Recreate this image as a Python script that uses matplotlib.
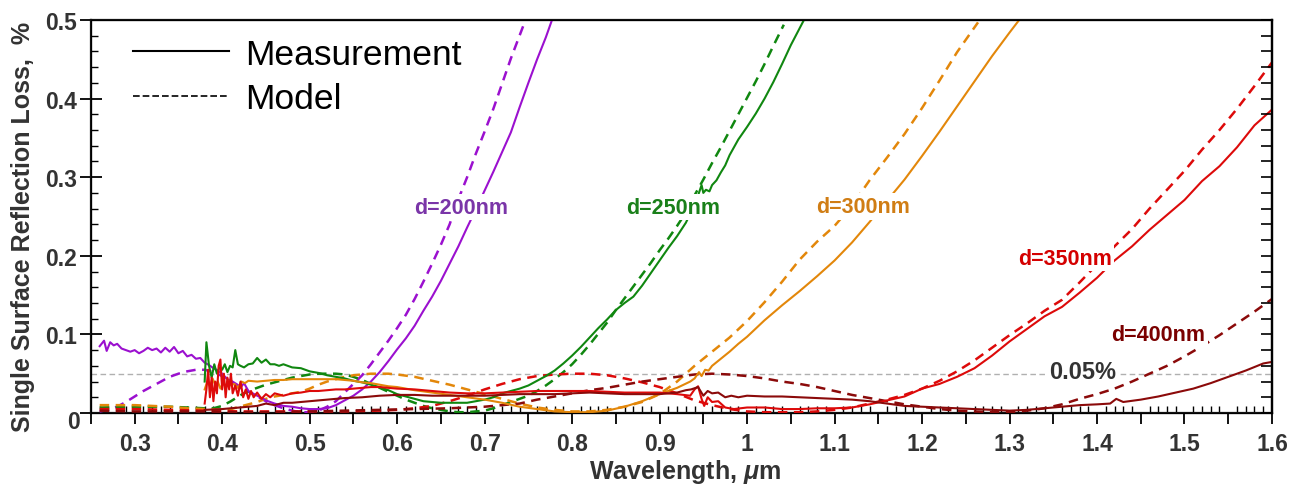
import matplotlib
matplotlib.use("Agg")
import matplotlib.pyplot as plt
from matplotlib.lines import Line2D
from matplotlib.ticker import MultipleLocator, FuncFormatter

plt.rcParams["font.family"] = ["Liberation Sans", "DejaVu Sans"]
plt.rcParams["mathtext.fontset"] = "custom"
plt.rcParams["mathtext.it"] = "Liberation Sans:italic:bold"
plt.rcParams["mathtext.rm"] = "Liberation Sans:bold"

# ---- data (wavelength in um, loss in %) ----
# d = 200 nm
x200_meas = [0.260, 0.265, 0.268, 0.272, 0.276, 0.280, 0.285, 0.290, 0.295, 0.300, 0.305, 0.310,
             0.315, 0.320, 0.325, 0.330, 0.335, 0.340, 0.345, 0.350, 0.355, 0.360, 0.365, 0.370,
             0.375, 0.380, 0.385, 0.390, 0.395, 0.400, 0.405, 0.410, 0.415, 0.420, 0.425, 0.430,
             0.440, 0.450, 0.460, 0.470, 0.480, 0.490, 0.500, 0.510, 0.520, 0.530, 0.540, 0.550,
             0.560, 0.570, 0.580, 0.590, 0.600, 0.610, 0.620, 0.630, 0.640, 0.650, 0.660, 0.670,
             0.680, 0.690, 0.700, 0.710, 0.720, 0.730, 0.740, 0.750, 0.760, 0.770, 0.777]
y200_meas = [0.085, 0.092, 0.079, 0.090, 0.086, 0.088, 0.082, 0.080, 0.078, 0.080, 0.076, 0.079,
             0.083, 0.080, 0.082, 0.077, 0.083, 0.078, 0.084, 0.076, 0.079, 0.072, 0.074, 0.069,
             0.070, 0.064, 0.061, 0.057, 0.054, 0.050, 0.044, 0.040, 0.036, 0.031, 0.038, 0.028,
             0.022, 0.016, 0.012, 0.009, 0.008, 0.006, 0.005, 0.005, 0.006, 0.010, 0.016, 0.022,
             0.030, 0.040, 0.052, 0.066, 0.081, 0.095, 0.111, 0.130, 0.148, 0.168, 0.190, 0.212,
             0.236, 0.259, 0.283, 0.307, 0.332, 0.357, 0.389, 0.420, 0.450, 0.478, 0.500]
x200_model = [0.260, 0.270, 0.280, 0.290, 0.300, 0.310, 0.320, 0.330, 0.340, 0.350, 0.360, 0.370,
              0.380, 0.390, 0.400, 0.410, 0.420, 0.430, 0.440, 0.450, 0.460, 0.470, 0.480, 0.490,
              0.500, 0.510, 0.520, 0.530, 0.540, 0.550, 0.560, 0.570, 0.580, 0.590, 0.600, 0.610,
              0.620, 0.630, 0.640, 0.650, 0.660, 0.670, 0.680, 0.690, 0.700, 0.710, 0.720, 0.730, 0.744]
y200_model = [0.002, 0.004, 0.008, 0.014, 0.021, 0.028, 0.034, 0.040, 0.046, 0.050, 0.053, 0.055,
              0.055, 0.052, 0.047, 0.041, 0.034, 0.027, 0.021, 0.015, 0.010, 0.006, 0.003, 0.001,
              0.001, 0.003, 0.008, 0.015, 0.026, 0.037, 0.048, 0.062, 0.077, 0.092, 0.108, 0.125,
              0.145, 0.167, 0.190, 0.214, 0.240, 0.272, 0.300, 0.330, 0.358, 0.387, 0.419, 0.451, 0.492]

# d = 250 nm
x250_meas = [0.380, 0.382, 0.385, 0.388, 0.391, 0.394, 0.397, 0.400, 0.403, 0.406, 0.409, 0.412,
             0.415, 0.418, 0.421, 0.425, 0.430, 0.435, 0.440, 0.445, 0.450, 0.455, 0.460, 0.465,
             0.470, 0.480, 0.490, 0.500, 0.510, 0.520, 0.530, 0.540, 0.550, 0.560, 0.570, 0.580,
             0.590, 0.600, 0.610, 0.620, 0.630, 0.640, 0.650, 0.660, 0.670, 0.680, 0.690, 0.700,
             0.710, 0.720, 0.730, 0.740, 0.750, 0.760, 0.770, 0.780, 0.790, 0.800, 0.810, 0.820,
             0.830, 0.840, 0.850, 0.860, 0.870, 0.880, 0.890, 0.900, 0.910, 0.920, 0.930, 0.940,
             0.945, 0.948, 0.950, 0.953, 0.957, 0.960, 0.965, 0.970, 0.975, 0.980, 0.990, 1.000,
             1.010, 1.020, 1.030, 1.040, 1.050, 1.065]
y250_meas = [0.040, 0.090, 0.060, 0.045, 0.062, 0.050, 0.058, 0.055, 0.062, 0.052, 0.060, 0.058,
             0.080, 0.062, 0.060, 0.058, 0.062, 0.063, 0.070, 0.064, 0.068, 0.062, 0.062, 0.060,
             0.062, 0.058, 0.057, 0.053, 0.051, 0.048, 0.046, 0.044, 0.041, 0.039, 0.036, 0.033,
             0.029, 0.024, 0.021, 0.018, 0.015, 0.014, 0.013, 0.013, 0.013, 0.013, 0.015, 0.017,
             0.020, 0.025, 0.028, 0.031, 0.035, 0.041, 0.047, 0.054, 0.063, 0.073, 0.084, 0.096,
             0.108, 0.119, 0.131, 0.140, 0.148, 0.162, 0.178, 0.194, 0.210, 0.225, 0.242, 0.265,
             0.280, 0.290, 0.280, 0.284, 0.282, 0.290, 0.296, 0.306, 0.315, 0.328, 0.348, 0.364,
             0.381, 0.400, 0.421, 0.444, 0.468, 0.500]
x250_model = [0.260, 0.300, 0.340, 0.380, 0.390, 0.400, 0.410, 0.420, 0.430, 0.440, 0.450, 0.460,
              0.470, 0.480, 0.490, 0.500, 0.510, 0.520, 0.530, 0.540, 0.550, 0.560, 0.570, 0.580,
              0.590, 0.600, 0.610, 0.620, 0.630, 0.640, 0.650, 0.660, 0.670, 0.680, 0.690, 0.700,
              0.710, 0.720, 0.730, 0.740, 0.750, 0.760, 0.770, 0.780, 0.790, 0.800, 0.810, 0.820,
              0.830, 0.840, 0.850, 0.860, 0.870, 0.880, 0.890, 0.900, 0.910, 0.920, 0.930, 0.940,
              0.950, 0.960, 0.970, 0.980, 0.990, 1.000, 1.010, 1.020, 1.030, 1.042]
y250_model = [0.007, 0.008, 0.008, 0.006, 0.006, 0.009, 0.015, 0.022, 0.028, 0.032, 0.036, 0.039,
              0.042, 0.045, 0.047, 0.049, 0.050, 0.050, 0.050, 0.049, 0.046, 0.042, 0.037, 0.032,
              0.027, 0.022, 0.017, 0.013, 0.009, 0.006, 0.004, 0.002, 0.001, 0.001, 0.002, 0.003,
              0.006, 0.010, 0.014, 0.018, 0.022, 0.028, 0.035, 0.043, 0.052, 0.062, 0.074, 0.087,
              0.101, 0.115, 0.131, 0.146, 0.161, 0.176, 0.191, 0.207, 0.222, 0.238, 0.255, 0.277,
              0.297, 0.318, 0.338, 0.359, 0.380, 0.401, 0.422, 0.444, 0.467, 0.494]

# d = 300 nm
x300_meas = [0.380, 0.383, 0.386, 0.389, 0.392, 0.395, 0.398, 0.401, 0.404, 0.407, 0.410, 0.414,
             0.418, 0.422, 0.426, 0.430, 0.440, 0.450, 0.460, 0.470, 0.480, 0.490, 0.500, 0.510,
             0.520, 0.530, 0.540, 0.550, 0.560, 0.570, 0.580, 0.590, 0.600, 0.620, 0.640, 0.660,
             0.680, 0.700, 0.720, 0.740, 0.760, 0.780, 0.800, 0.820, 0.840, 0.860, 0.880, 0.900,
             0.920, 0.935, 0.940, 0.945, 0.948, 0.952, 0.956, 0.960, 0.970, 0.980, 0.990, 1.000,
             1.020, 1.040, 1.060, 1.080, 1.100, 1.120, 1.140, 1.160, 1.180, 1.200, 1.220, 1.240,
             1.260, 1.280, 1.300, 1.311]
y300_meas = [0.030, 0.040, 0.034, 0.044, 0.036, 0.040, 0.031, 0.038, 0.034, 0.041, 0.035, 0.037,
             0.032, 0.040, 0.038, 0.041, 0.040, 0.041, 0.042, 0.042, 0.043, 0.043, 0.043, 0.043,
             0.043, 0.043, 0.042, 0.041, 0.039, 0.038, 0.036, 0.034, 0.033, 0.029, 0.026, 0.023,
             0.020, 0.017, 0.013, 0.008, 0.005, 0.002, 0.001, 0.001, 0.003, 0.008, 0.015, 0.024,
             0.032, 0.040, 0.044, 0.052, 0.047, 0.055, 0.054, 0.060, 0.069, 0.078, 0.088, 0.097,
             0.118, 0.137, 0.155, 0.174, 0.194, 0.217, 0.243, 0.270, 0.297, 0.327, 0.358, 0.390,
             0.422, 0.454, 0.484, 0.500]
x300_model = [0.260, 0.280, 0.300, 0.320, 0.340, 0.360, 0.380, 0.400, 0.410, 0.420, 0.430, 0.440,
              0.450, 0.460, 0.470, 0.480, 0.490, 0.500, 0.510, 0.520, 0.530, 0.540, 0.550, 0.560,
              0.570, 0.580, 0.590, 0.600, 0.620, 0.640, 0.660, 0.680, 0.700, 0.720, 0.740, 0.760,
              0.780, 0.800, 0.820, 0.840, 0.860, 0.880, 0.900, 0.920, 0.940, 0.960, 0.980, 1.000,
              1.020, 1.040, 1.060, 1.080, 1.100, 1.120, 1.140, 1.160, 1.180, 1.200, 1.220, 1.240, 1.264]
y300_model = [0.010, 0.010, 0.010, 0.009, 0.008, 0.006, 0.005, 0.004, 0.005, 0.008, 0.011, 0.014,
              0.018, 0.021, 0.023, 0.025, 0.027, 0.031, 0.036, 0.040, 0.043, 0.046, 0.048, 0.049,
              0.050, 0.050, 0.050, 0.049, 0.046, 0.041, 0.036, 0.030, 0.024, 0.018, 0.012, 0.007,
              0.004, 0.002, 0.002, 0.004, 0.008, 0.014, 0.024, 0.040, 0.060, 0.078, 0.096, 0.117,
              0.141, 0.167, 0.195, 0.218, 0.238, 0.264, 0.296, 0.325, 0.355, 0.388, 0.423, 0.459, 0.497]

# d = 350 nm
x350_meas = [0.380, 0.382, 0.384, 0.386, 0.388, 0.390, 0.392, 0.394, 0.396, 0.398, 0.400, 0.402,
             0.404, 0.406, 0.408, 0.410, 0.412, 0.415, 0.418, 0.421, 0.424, 0.427, 0.430, 0.433,
             0.436, 0.440, 0.445, 0.450, 0.455, 0.460, 0.470, 0.480, 0.490, 0.500, 0.510, 0.520,
             0.530, 0.540, 0.550, 0.560, 0.570, 0.580, 0.590, 0.600, 0.620, 0.640, 0.660, 0.680,
             0.700, 0.720, 0.740, 0.760, 0.780, 0.800, 0.820, 0.840, 0.860, 0.880, 0.900, 0.920,
             0.935, 0.940, 0.944, 0.948, 0.951, 0.955, 0.960, 0.967, 0.975, 0.985, 1.000, 1.020,
             1.040, 1.060, 1.080, 1.100, 1.120, 1.140, 1.160, 1.180, 1.200, 1.220, 1.240, 1.260,
             1.280, 1.300, 1.320, 1.340, 1.360, 1.380, 1.400, 1.420, 1.440, 1.460, 1.480, 1.500,
             1.520, 1.540, 1.560, 1.580, 1.590, 1.600]
y350_meas = [0.012, 0.030, 0.055, 0.020, 0.045, 0.015, 0.040, 0.025, 0.060, 0.068, 0.030, 0.050,
             0.020, 0.045, 0.030, 0.050, 0.025, 0.035, 0.022, 0.040, 0.020, 0.030, 0.018, 0.028,
             0.020, 0.026, 0.018, 0.024, 0.020, 0.025, 0.022, 0.025, 0.026, 0.028, 0.028, 0.029,
             0.030, 0.030, 0.031, 0.032, 0.033, 0.033, 0.032, 0.031, 0.030, 0.028, 0.026, 0.025,
             0.025, 0.026, 0.027, 0.028, 0.028, 0.028, 0.028, 0.027, 0.026, 0.026, 0.026, 0.024,
             0.022, 0.030, 0.034, 0.018, 0.009, 0.020, 0.014, 0.015, 0.007, 0.005, 0.007, 0.007,
             0.005, 0.005, 0.006, 0.006, 0.007, 0.011, 0.016, 0.021, 0.031, 0.037, 0.046, 0.057,
             0.073, 0.091, 0.107, 0.123, 0.135, 0.153, 0.172, 0.194, 0.212, 0.233, 0.252, 0.271,
             0.295, 0.314, 0.338, 0.366, 0.376, 0.386]
x350_model = [0.260, 0.300, 0.340, 0.380, 0.420, 0.460, 0.500, 0.540, 0.580, 0.600, 0.620, 0.640,
              0.660, 0.680, 0.700, 0.720, 0.740, 0.760, 0.780, 0.800, 0.820, 0.840, 0.860, 0.880,
              0.900, 0.920, 0.940, 0.960, 0.980, 1.000, 1.020, 1.040, 1.060, 1.080, 1.100, 1.120,
              1.140, 1.160, 1.180, 1.200, 1.220, 1.240, 1.260, 1.280, 1.300, 1.320, 1.340, 1.360,
              1.380, 1.400, 1.420, 1.440, 1.460, 1.480, 1.500, 1.520, 1.540, 1.560, 1.580, 1.600]
y350_model = [0.005, 0.005, 0.004, 0.003, 0.002, 0.002, 0.002, 0.002, 0.003, 0.004, 0.006, 0.009,
              0.015, 0.022, 0.030, 0.037, 0.043, 0.047, 0.049, 0.050, 0.050, 0.048, 0.044, 0.039,
              0.033, 0.025, 0.016, 0.010, 0.005, 0.002, 0.001, 0.001, 0.001, 0.002, 0.004, 0.007,
              0.012, 0.017, 0.023, 0.031, 0.041, 0.053, 0.067, 0.083, 0.099, 0.114, 0.130, 0.144,
              0.166, 0.189, 0.212, 0.234, 0.260, 0.284, 0.308, 0.335, 0.360, 0.387, 0.416, 0.446]

# d = 400 nm
x400_meas = [0.380, 0.400, 0.420, 0.440, 0.450, 0.460, 0.470, 0.480, 0.490, 0.500, 0.510, 0.520,
             0.530, 0.540, 0.560, 0.580, 0.600, 0.620, 0.640, 0.660, 0.680, 0.700, 0.720, 0.740,
             0.760, 0.780, 0.800, 0.820, 0.840, 0.860, 0.880, 0.900, 0.920, 0.930, 0.936, 0.944,
             0.950, 0.955, 0.960, 0.967, 0.975, 0.982, 0.990, 1.000, 1.020, 1.040, 1.060, 1.080,
             1.100, 1.120, 1.140, 1.160, 1.180, 1.200, 1.220, 1.240, 1.260, 1.280, 1.300, 1.320,
             1.340, 1.360, 1.380, 1.400, 1.415, 1.422, 1.430, 1.450, 1.470, 1.490, 1.510, 1.530,
             1.550, 1.570, 1.590, 1.600]
y400_meas = [0.004, 0.005, 0.007, 0.009, 0.012, 0.010, 0.013, 0.013, 0.014, 0.015, 0.016, 0.017,
             0.018, 0.019, 0.020, 0.022, 0.023, 0.023, 0.022, 0.022, 0.022, 0.022, 0.023, 0.024,
             0.024, 0.024, 0.025, 0.026, 0.025, 0.024, 0.024, 0.024, 0.026, 0.029, 0.030, 0.033,
             0.022, 0.028, 0.025, 0.026, 0.020, 0.022, 0.020, 0.022, 0.021, 0.021, 0.020, 0.019,
             0.018, 0.017, 0.015, 0.012, 0.009, 0.008, 0.007, 0.006, 0.005, 0.004, 0.003, 0.004,
             0.006, 0.008, 0.010, 0.011, 0.012, 0.018, 0.014, 0.017, 0.021, 0.026, 0.031, 0.038,
             0.046, 0.054, 0.063, 0.065]
x400_model = [0.260, 0.300, 0.340, 0.380, 0.420, 0.460, 0.500, 0.540, 0.580, 0.620, 0.660, 0.700,
              0.740, 0.760, 0.780, 0.800, 0.820, 0.840, 0.860, 0.880, 0.900, 0.920, 0.940, 0.960,
              0.980, 1.000, 1.020, 1.040, 1.060, 1.080, 1.100, 1.120, 1.140, 1.160, 1.180, 1.200,
              1.220, 1.240, 1.260, 1.280, 1.300, 1.320, 1.340, 1.360, 1.380, 1.400, 1.420, 1.440,
              1.460, 1.480, 1.500, 1.520, 1.540, 1.560, 1.580, 1.600]
y400_model = [0.003, 0.002, 0.002, 0.002, 0.001, 0.001, 0.002, 0.003, 0.004, 0.005, 0.006, 0.008,
              0.012, 0.017, 0.021, 0.025, 0.029, 0.032, 0.036, 0.040, 0.043, 0.046, 0.049, 0.050,
              0.049, 0.047, 0.044, 0.040, 0.037, 0.033, 0.028, 0.023, 0.019, 0.015, 0.011, 0.008,
              0.005, 0.003, 0.002, 0.001, 0.001, 0.003, 0.006, 0.011, 0.018, 0.024, 0.031, 0.040,
              0.050, 0.060, 0.072, 0.085, 0.099, 0.114, 0.129, 0.145]

series = [
    ("d=200nm", x200_meas, y200_meas, x200_model, y200_model, "#9b10cf", "#7a35a8", (0.673, 0.262)),
    ("d=250nm", x250_meas, y250_meas, x250_model, y250_model, "#108710", "#1a801a", (0.9155, 0.262)),
    ("d=300nm", x300_meas, y300_meas, x300_model, y300_model, "#e3870a", "#d07d14", (1.133, 0.263)),
    ("d=350nm", x350_meas, y350_meas, x350_model, y350_model, "#dd0a0a", "#d40000", (1.363, 0.197)),
    ("d=400nm", x400_meas, y400_meas, x400_model, y400_model, "#8b0a0a", "#7a0000", (1.470, 0.100)),
]

fig = plt.figure(figsize=(12.99, 4.85), dpi=100)
ax = fig.add_axes([0.0700, 0.1464, 0.9092, 0.8103])

ax.axhline(0.05, color="#b0b0b0", lw=1.0, dashes=(4, 2.5), zorder=1)
ax.text(1.384, 0.053, "0.05%", color="#333333", fontsize=17, fontweight="bold",
        ha="center", va="center", zorder=6,
        bbox=dict(fc="white", ec="none", pad=1))

for name, xm, ym, xd, yd, col, lcol, pos in series:
    ax.plot(xd, yd, color=col, lw=1.8, dashes=(3.8, 2.6), zorder=3)
    ax.plot(xm, ym, color=col, lw=1.5, zorder=4)
    ax.text(pos[0], pos[1], name, color=lcol, fontsize=15.5, fontweight="bold",
            ha="center", va="center", zorder=6,
            bbox=dict(fc="white", ec="none", pad=2))

ax.set_xlim(0.25, 1.6)
ax.set_ylim(0, 0.5)

ax.xaxis.set_major_locator(MultipleLocator(0.05))
ax.xaxis.set_minor_locator(MultipleLocator(0.01))


def xfmt(v, pos):
    k = round(v * 100)
    if k % 10 != 0 or k == 20:
        return ""
    return f"{v:.1f}".rstrip("0").rstrip(".") if k != 100 else "1"


def yfmt(v, pos):
    if abs(v) < 1e-9:
        return ""
    return f"{v:.1f}"


ax.xaxis.set_major_formatter(FuncFormatter(xfmt))
ax.yaxis.set_major_locator(MultipleLocator(0.1))
ax.yaxis.set_minor_locator(MultipleLocator(0.02))
ax.yaxis.set_major_formatter(FuncFormatter(yfmt))

ax.tick_params(axis="x", which="major", direction="out", length=8, width=1.3,
               labelsize=16.5, pad=6, labelcolor="#333333", top=False)
ax.tick_params(axis="x", which="minor", direction="in", length=5, width=1.0, top=False)
ax.tick_params(axis="y", which="major", direction="inout", length=16, width=1.3,
               labelsize=16.5, pad=2, labelcolor="#333333", right=False)
ax.tick_params(axis="y", which="minor", direction="in", length=5, width=1.0, right=False)
for lab in ax.get_xticklabels() + ax.get_yticklabels():
    lab.set_fontweight("bold")
# zero label sits a little below the corner
ax.text(-0.009, -0.011, "0", transform=ax.get_yaxis_transform(), ha="right", va="center",
        fontsize=16.5, fontweight="bold", color="#333333")

for sp in ax.spines.values():
    sp.set_linewidth(1.6)
    sp.set_color("#111111")

axr = ax.twinx()
axr.set_ylim(0, 0.5)
axr.yaxis.set_major_locator(MultipleLocator(0.02))
axr.tick_params(axis="y", direction="in", length=8, width=1.2, labelright=False)
axr.spines["right"].set_linewidth(1.6)

ax.set_xlabel("Wavelength, $\\mathit{\\mu}$m", fontsize=18, fontweight="bold", color="#333333",
              va="bottom")
ax.xaxis.set_label_coords(0.503, -0.184)
ax.set_ylabel("Single Surface Reflection Loss,  %", fontsize=18, fontweight="bold",
              color="#333333", va="center")
ax.yaxis.set_label_coords(-0.0576, 0.476)

handles = [Line2D([], [], color="black", lw=1.5),
           Line2D([], [], color="black", lw=1.2, dashes=(4, 1.8))]
leg = ax.legend(handles, ["Measurement", "Model"], loc="upper left",
                bbox_to_anchor=(0.0356, 0.955), frameon=False, fontsize=25.5,
                handlelength=2.7, handletextpad=0.47, labelspacing=0.33,
                borderpad=0, borderaxespad=0)

fig.savefig("out.png", dpi=100)
